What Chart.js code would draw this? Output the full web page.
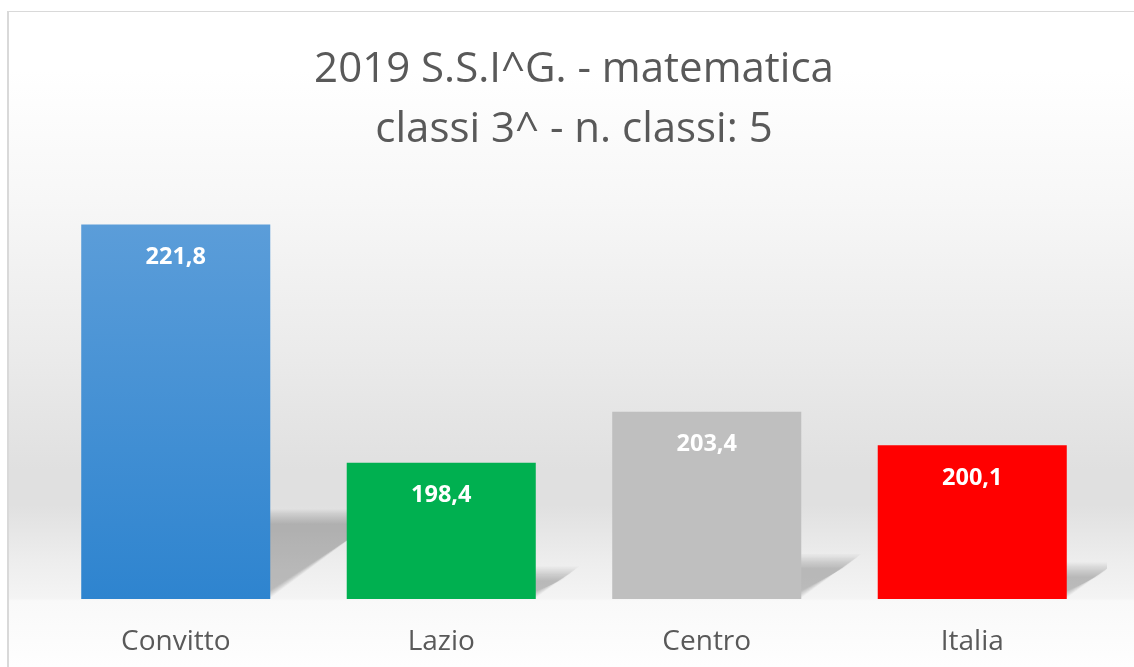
<!DOCTYPE html>
<html><head><meta charset="utf-8">
<script src="https://cdn.jsdelivr.net/npm/chart.js@4.4.1/dist/chart.umd.min.js"></script>
<style>html,body{margin:0;padding:0;background:#fff;overflow:hidden}#wrap{width:1134px;height:667px;position:relative}canvas{display:block}</style>
</head><body><div id="wrap"><canvas id="c" width="1134" height="667"></canvas></div>
<script>
const categories = ['Convitto', 'Lazio', 'Centro', 'Italia'];
const values = [221.8, 198.4, 203.4, 200.1];
const valueLabels = ['221,8', '198,4', '203,4', '200,1'];
const titleLines = ['2019 S.S.I^G. - matematica', 'classi 3^ - n. classi: 5'];
const barColors = ['#4a92d6', '#00b050', '#bfbfbf', '#ff0000'];
const yMin = 185;
const yMax = 225;

const FONT = "'Open Sans', 'Noto Sans', sans-serif";

function drawShadows(chart) {
  const ctx = chart.ctx;
  const a = chart.chartArea;
  const ys = chart.scales.y;
  const xs = chart.scales.x;
  const base = ys.getPixelForValue(yMin);
  const layers = 12;
  ctx.save();
  ctx.beginPath();
  ctx.rect(a.left, a.top, a.right - a.left + 2, a.bottom - a.top);
  ctx.clip();
  values.forEach((v, i) => {
    const top = ys.getPixelForValue(v);
    const cx = xs.getPixelForValue(i);
    const w = 0.712 * (xs.getPixelForValue(1) - xs.getPixelForValue(0));
    const h = base - top;
    const left = cx - w / 2, right = cx + w / 2;
    const dx = 0.32 * h, dy = 0.24 * h;
    for (let k = 0; k < layers; k++) {
      const ins = k * 1.3;
      ctx.fillStyle = 'rgba(0,0,0,0.018)';
      ctx.beginPath();
      ctx.moveTo(left + ins, base - 1 - ins * 0.4);
      ctx.lineTo(right - ins * 0.2, base - 1 - ins * 0.4);
      ctx.lineTo(right + dx - ins * 1.2, base - dy + ins);
      ctx.lineTo(left + dx, base - dy + ins);
      ctx.closePath();
      ctx.fill();
    }
  });
  ctx.restore();
}

const bgPlugin = {
  id: 'bg',
  beforeDraw(chart) {
    const ctx = chart.ctx;
    const W = chart.width, H = chart.height;
    ctx.save();
    ctx.fillStyle = '#ffffff';
    ctx.fillRect(0, 0, W, H);
    const g = ctx.createLinearGradient(0, 12, 0, H);
    const s = y => (y - 12) / (H - 12);
    g.addColorStop(0, '#ffffff');
    g.addColorStop(s(70), '#ffffff');
    g.addColorStop(s(200), '#f7f7f7');
    g.addColorStop(s(350), '#ebebeb');
    g.addColorStop(s(470), '#e0e0e0');
    g.addColorStop(s(505), '#e0e0e0');
    g.addColorStop(s(560), '#ededed');
    g.addColorStop(s(598), '#f4f4f4');
    g.addColorStop(s(601), '#f9f9f9');
    g.addColorStop(1, '#fefefe');
    ctx.fillStyle = g;
    ctx.fillRect(8, 12, W - 8, H - 12);
    ctx.fillStyle = '#d9d9d9';
    ctx.fillRect(7, 11, W - 7, 1);
    ctx.fillRect(7, 11, 2, H - 11);
    ctx.restore();
    drawShadows(chart);
  }
};

const labelPlugin = {
  id: 'valueLabels',
  afterDatasetsDraw(chart) {
    const ctx = chart.ctx;
    const meta = chart.getDatasetMeta(0);
    ctx.save();
    ctx.font = "bold 23.5px " + FONT;
    ctx.fillStyle = '#ffffff';
    ctx.textAlign = 'center';
    ctx.textBaseline = 'middle';
    meta.data.forEach((bar, i) => {
      ctx.fillText(valueLabels[i], bar.x, bar.y + 33);
    });
    ctx.restore();
  }
};

function barFill(context) {
  const i = context.dataIndex;
  if (i === 0) {
    const chart = context.chart;
    const ys = chart.scales.y;
    if (!ys || !chart.chartArea) return barColors[0];
    const top = ys.getPixelForValue(values[0]);
    const bot = ys.getPixelForValue(yMin);
    const g = chart.ctx.createLinearGradient(0, top, 0, bot);
    g.addColorStop(0, '#5b9dd9');
    g.addColorStop(1, '#2e84cf');
    return g;
  }
  return barColors[i];
}

new Chart(document.getElementById('c'), {
  type: 'bar',
  data: {
    labels: categories,
    datasets: [{
      data: values,
      backgroundColor: barFill,
      borderWidth: 0,
      categoryPercentage: 1,
      barPercentage: 0.712
    }]
  },
  options: {
    responsive: false,
    animation: false,
    devicePixelRatio: 1,
    layout: { padding: { left: 43, right: 29, top: 0, bottom: 0 } },
    plugins: {
      legend: { display: false },
      tooltip: { enabled: false },
      title: {
        display: true,
        text: titleLines,
        color: '#595959',
        font: { family: FONT, size: 42, weight: 'normal', lineHeight: 60 / 42 },
        padding: { top: 40, bottom: 32 }
      }
    },
    scales: {
      x: {
        grid: { display: false, drawTicks: false },
        border: { display: false },
        ticks: { color: '#595959', font: { family: FONT, size: 28 }, padding: 26 },
        afterFit(scale) { scale.height = 68; }
      },
      y: {
        display: false,
        min: yMin,
        max: yMax
      }
    }
  },
  plugins: [bgPlugin, labelPlugin]
});
</script>
</body></html>
